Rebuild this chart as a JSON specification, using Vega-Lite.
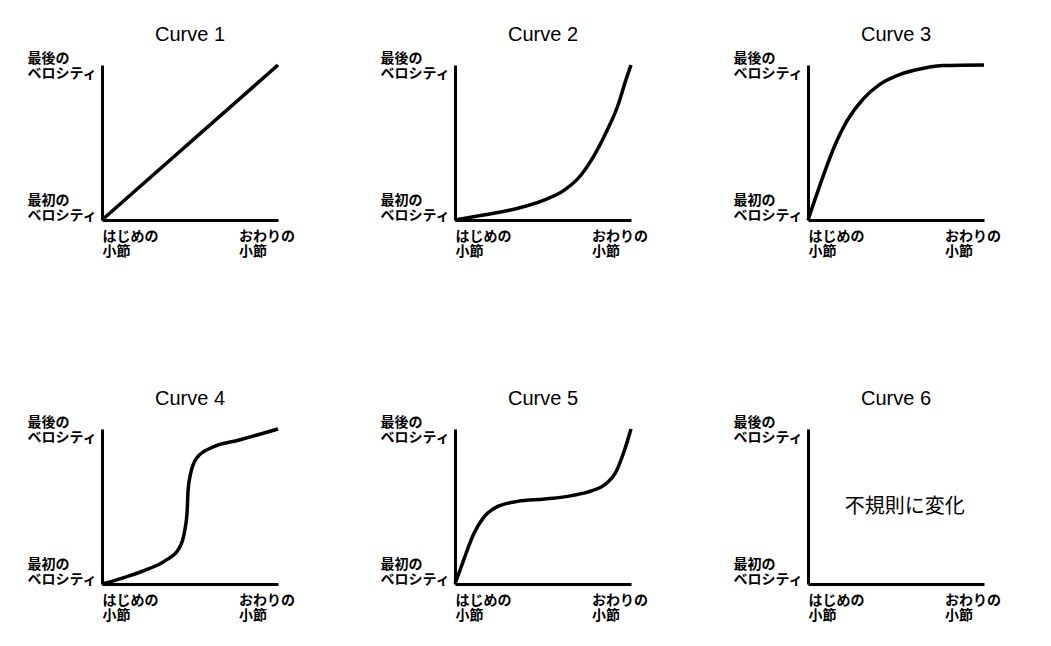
{
  "$schema": "https://vega.github.io/schema/vega-lite/v6.json",
  "background": "white",
  "padding": {"left": 27, "top": 25, "right": 5, "bottom": 5},
  "datasets": {
    "curves": [
      {"curve": 1, "x": 0, "y": 0}, {"curve": 1, "x": 1, "y": 1},
      {"curve": 2, "x": 0, "y": 0}, {"curve": 2, "x": 0.162, "y": 0.032}, {"curve": 2, "x": 0.352, "y": 0.074}, {"curve": 2, "x": 0.505, "y": 0.128}, {"curve": 2, "x": 0.619, "y": 0.191}, {"curve": 2, "x": 0.714, "y": 0.287}, {"curve": 2, "x": 0.79, "y": 0.415}, {"curve": 2, "x": 0.867, "y": 0.585}, {"curve": 2, "x": 0.924, "y": 0.734}, {"curve": 2, "x": 0.971, "y": 0.904}, {"curve": 2, "x": 1, "y": 1},
      {"curve": 3, "x": 0, "y": 0}, {"curve": 3, "x": 0.067, "y": 0.222}, {"curve": 3, "x": 0.143, "y": 0.455}, {"curve": 3, "x": 0.219, "y": 0.634}, {"curve": 3, "x": 0.314, "y": 0.782}, {"curve": 3, "x": 0.41, "y": 0.877}, {"curve": 3, "x": 0.524, "y": 0.94}, {"curve": 3, "x": 0.657, "y": 0.979}, {"curve": 3, "x": 0.771, "y": 0.996}, {"curve": 3, "x": 1, "y": 1},
      {"curve": 4, "x": 0, "y": 0}, {"curve": 4, "x": 0.13, "y": 0.043}, {"curve": 4, "x": 0.264, "y": 0.097}, {"curve": 4, "x": 0.36, "y": 0.151}, {"curve": 4, "x": 0.436, "y": 0.226}, {"curve": 4, "x": 0.47, "y": 0.344}, {"curve": 4, "x": 0.484, "y": 0.473}, {"curve": 4, "x": 0.489, "y": 0.602}, {"curve": 4, "x": 0.503, "y": 0.71}, {"curve": 4, "x": 0.541, "y": 0.817}, {"curve": 4, "x": 0.627, "y": 0.882}, {"curve": 4, "x": 0.78, "y": 0.929}, {"curve": 4, "x": 1, "y": 1},
      {"curve": 5, "x": 0, "y": 0}, {"curve": 5, "x": 0.048, "y": 0.151}, {"curve": 5, "x": 0.106, "y": 0.323}, {"curve": 5, "x": 0.163, "y": 0.43}, {"curve": 5, "x": 0.24, "y": 0.499}, {"curve": 5, "x": 0.356, "y": 0.533}, {"curve": 5, "x": 0.51, "y": 0.548}, {"curve": 5, "x": 0.663, "y": 0.57}, {"curve": 5, "x": 0.779, "y": 0.602}, {"curve": 5, "x": 0.856, "y": 0.645}, {"curve": 5, "x": 0.913, "y": 0.72}, {"curve": 5, "x": 0.962, "y": 0.86}, {"curve": 5, "x": 1, "y": 1}
    ],
    "notes": [
      {"curve": 6, "x": 0.55, "y": 0.5, "label": "不規則に変化"}
    ]
  },
  "vconcat": [
    {
      "hconcat": [
        {
          "title": "Curve 1", "width": 176, "height": 155,
          "data": {"name": "curves"}, "transform": [{"filter": "datum.curve == 1"}],
          "mark": {"type": "line", "interpolate": "monotone", "color": "black", "strokeWidth": 3.5},
          "encoding": {
            "x": {"field": "x", "type": "quantitative", "title": null, "scale": {"domain": [0, 1], "nice": false}, "axis": {"values": [0, 0.775], "labelExpr": "datum.value < 0.5 ? ['はじめの','小節'] : ['おわりの','小節']", "labelAlign": "left", "labelBaseline": "top", "labelPadding": 9}},
            "y": {"field": "y", "type": "quantitative", "title": null, "scale": {"domain": [0, 1], "nice": false}, "axis": {"values": [0, 1], "labelExpr": "datum.value > 0.5 ? ['最後の','ベロシティ'] : ['最初の','ベロシティ']", "labelAlign": "left", "labelPadding": 75, "labelBaseline": "middle", "labelOffset": {"condition": {"test": "datum.value > 0.5", "value": -7}, "value": -20}}}
          }
        },
        {
          "title": "Curve 2", "width": 176, "height": 155,
          "data": {"name": "curves"}, "transform": [{"filter": "datum.curve == 2"}],
          "mark": {"type": "line", "interpolate": "monotone", "color": "black", "strokeWidth": 3.5},
          "encoding": {
            "x": {"field": "x", "type": "quantitative", "title": null, "scale": {"domain": [0, 1], "nice": false}, "axis": {"values": [0, 0.775], "labelExpr": "datum.value < 0.5 ? ['はじめの','小節'] : ['おわりの','小節']", "labelAlign": "left", "labelBaseline": "top", "labelPadding": 9}},
            "y": {"field": "y", "type": "quantitative", "title": null, "scale": {"domain": [0, 1], "nice": false}, "axis": {"values": [0, 1], "labelExpr": "datum.value > 0.5 ? ['最後の','ベロシティ'] : ['最初の','ベロシティ']", "labelAlign": "left", "labelPadding": 75, "labelBaseline": "middle", "labelOffset": {"condition": {"test": "datum.value > 0.5", "value": -7}, "value": -20}}}
          }
        },
        {
          "title": "Curve 3", "width": 176, "height": 155,
          "data": {"name": "curves"}, "transform": [{"filter": "datum.curve == 3"}],
          "mark": {"type": "line", "interpolate": "monotone", "color": "black", "strokeWidth": 3.5},
          "encoding": {
            "x": {"field": "x", "type": "quantitative", "title": null, "scale": {"domain": [0, 1], "nice": false}, "axis": {"values": [0, 0.775], "labelExpr": "datum.value < 0.5 ? ['はじめの','小節'] : ['おわりの','小節']", "labelAlign": "left", "labelBaseline": "top", "labelPadding": 9}},
            "y": {"field": "y", "type": "quantitative", "title": null, "scale": {"domain": [0, 1], "nice": false}, "axis": {"values": [0, 1], "labelExpr": "datum.value > 0.5 ? ['最後の','ベロシティ'] : ['最初の','ベロシティ']", "labelAlign": "left", "labelPadding": 75, "labelBaseline": "middle", "labelOffset": {"condition": {"test": "datum.value > 0.5", "value": -7}, "value": -20}}}
          }
        }
      ]
    },
    {
      "hconcat": [
        {
          "title": "Curve 4", "width": 176, "height": 155,
          "data": {"name": "curves"}, "transform": [{"filter": "datum.curve == 4"}],
          "mark": {"type": "line", "interpolate": "monotone", "color": "black", "strokeWidth": 3.5},
          "encoding": {
            "x": {"field": "x", "type": "quantitative", "title": null, "scale": {"domain": [0, 1], "nice": false}, "axis": {"values": [0, 0.775], "labelExpr": "datum.value < 0.5 ? ['はじめの','小節'] : ['おわりの','小節']", "labelAlign": "left", "labelBaseline": "top", "labelPadding": 9}},
            "y": {"field": "y", "type": "quantitative", "title": null, "scale": {"domain": [0, 1], "nice": false}, "axis": {"values": [0, 1], "labelExpr": "datum.value > 0.5 ? ['最後の','ベロシティ'] : ['最初の','ベロシティ']", "labelAlign": "left", "labelPadding": 75, "labelBaseline": "middle", "labelOffset": {"condition": {"test": "datum.value > 0.5", "value": -7}, "value": -20}}}
          }
        },
        {
          "title": "Curve 5", "width": 176, "height": 155,
          "data": {"name": "curves"}, "transform": [{"filter": "datum.curve == 5"}],
          "mark": {"type": "line", "interpolate": "monotone", "color": "black", "strokeWidth": 3.5},
          "encoding": {
            "x": {"field": "x", "type": "quantitative", "title": null, "scale": {"domain": [0, 1], "nice": false}, "axis": {"values": [0, 0.775], "labelExpr": "datum.value < 0.5 ? ['はじめの','小節'] : ['おわりの','小節']", "labelAlign": "left", "labelBaseline": "top", "labelPadding": 9}},
            "y": {"field": "y", "type": "quantitative", "title": null, "scale": {"domain": [0, 1], "nice": false}, "axis": {"values": [0, 1], "labelExpr": "datum.value > 0.5 ? ['最後の','ベロシティ'] : ['最初の','ベロシティ']", "labelAlign": "left", "labelPadding": 75, "labelBaseline": "middle", "labelOffset": {"condition": {"test": "datum.value > 0.5", "value": -7}, "value": -20}}}
          }
        },
        {
          "title": "Curve 6", "width": 176, "height": 155,
          "data": {"name": "notes"},
          "mark": {"type": "text", "font": "Noto Sans CJK JP", "fontSize": 20, "fontWeight": "normal", "color": "black", "align": "center", "baseline": "middle"},
          "encoding": {
            "x": {"field": "x", "type": "quantitative", "title": null, "scale": {"domain": [0, 1], "nice": false}, "axis": {"values": [0, 0.775], "labelExpr": "datum.value < 0.5 ? ['はじめの','小節'] : ['おわりの','小節']", "labelAlign": "left", "labelBaseline": "top", "labelPadding": 9}},
            "y": {"field": "y", "type": "quantitative", "title": null, "scale": {"domain": [0, 1], "nice": false}, "axis": {"values": [0, 1], "labelExpr": "datum.value > 0.5 ? ['最後の','ベロシティ'] : ['最初の','ベロシティ']", "labelAlign": "left", "labelPadding": 75, "labelBaseline": "middle", "labelOffset": {"condition": {"test": "datum.value > 0.5", "value": -7}, "value": -20}}},
            "text": {"field": "label", "type": "nominal"}
          }
        }
      ],
      "spacing": 85
    }
  ],
  "spacing": 131,
  "config": {
    "concat": {"spacing": 85},
    "view": {"stroke": null},
    "title": {"font": "Liberation Sans", "fontSize": 20, "fontWeight": "normal", "color": "black", "anchor": "middle", "frame": "group", "offset": 6, "baseline": "alphabetic"},
    "axis": {"domainColor": "black", "domainWidth": 3, "ticks": false, "tickSize": 0, "grid": false, "labelFont": "Noto Sans CJK JP", "labelFontSize": 14, "labelFontWeight": "bold", "labelColor": "black", "labelLineHeight": 15, "labelOverlap": false, "labelFlush": false, "labelBound": false}
  }
}
